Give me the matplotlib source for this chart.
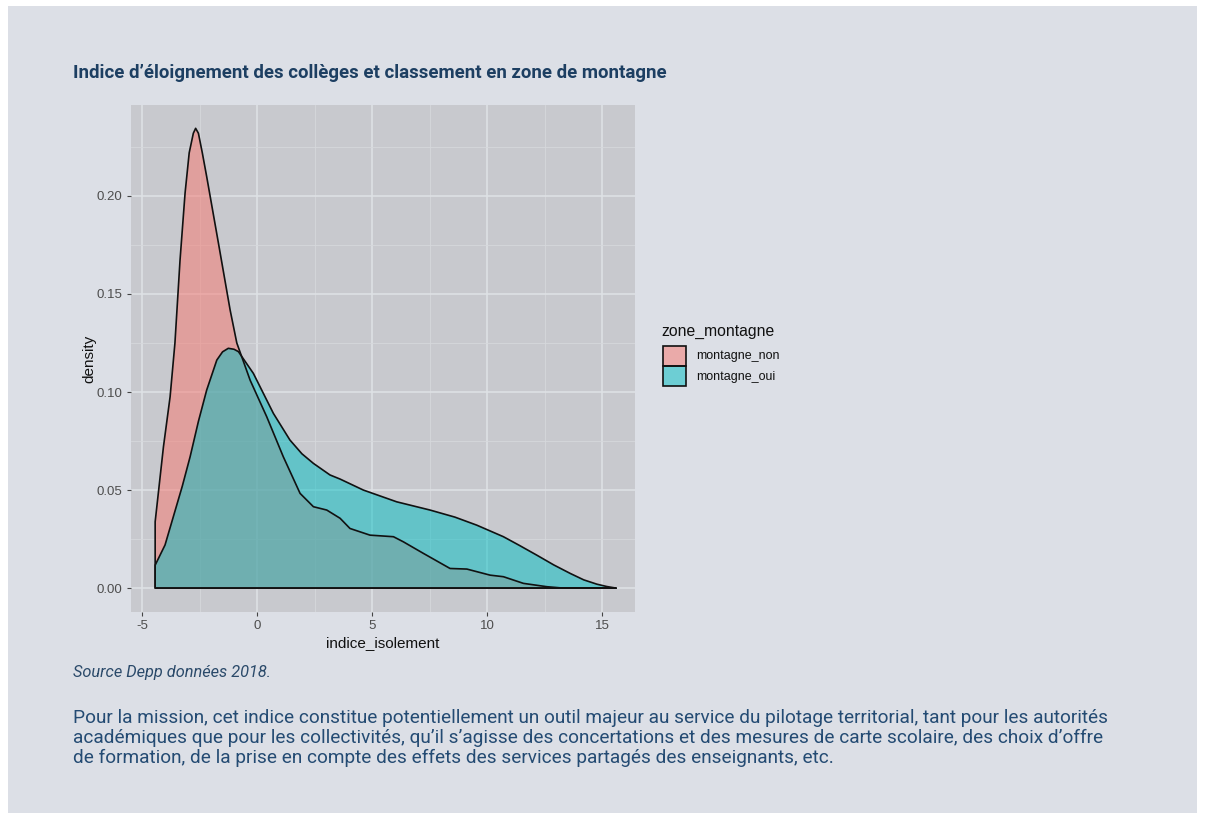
import numpy as np
import matplotlib
matplotlib.use("Agg")
import matplotlib.pyplot as plt
from matplotlib.patches import Rectangle

# density curves (indice_isolement -> density)
x_non = [-4.43, -4.07, -3.78, -3.57, -3.35, -3.13, -2.95, -2.77, -2.67, -2.55, -2.38,
         -2.19, -1.68, -1.17, -0.88, -0.30, 0.42, 1.14, 1.87, 2.45, 3.03, 3.61, 4.04,
         4.91, 5.93, 6.36, 7.23, 8.39, 9.12, 10.13, 10.71, 11.58, 12.6, 13.3, 15.6]
y_non = [0.0338, 0.0720, 0.0976, 0.125, 0.167, 0.2014, 0.222, 0.232, 0.2345, 0.232,
         0.222, 0.2099, 0.176, 0.1418, 0.125, 0.106, 0.0874, 0.067, 0.0483, 0.0415,
         0.0398, 0.0356, 0.0304, 0.027, 0.0262, 0.0236, 0.0177, 0.010, 0.0097, 0.0066,
         0.0058, 0.0024, 0.0007, 0.0, 0.0]

x_oui = [-4.43, -4.0, -3.64, -3.25, -2.91, -2.55, -2.19, -1.75, -1.5, -1.25, -1.0,
         -0.81, -0.16, 0.71, 1.43, 1.95, 2.45, 3.17, 3.61, 4.62, 6.07, 7.52, 8.6, 9.55,
         10.71, 11.4, 12.16, 12.9, 13.61, 14.2, 14.77, 15.2, 15.6]
y_oui = [0.0117, 0.022, 0.0364, 0.052, 0.067, 0.085, 0.101, 0.1163, 0.1205, 0.1223,
         0.1218, 0.1206, 0.1095, 0.0891, 0.0755, 0.0685, 0.0636, 0.0577, 0.0556, 0.050,
         0.044, 0.0398, 0.0362, 0.0321, 0.0262, 0.0218, 0.0168, 0.0118, 0.0075, 0.0042,
         0.002, 0.0008, 0.0]

groups = ["montagne_non", "montagne_oui"]
fills = ["#F8766D", "#00BFC4"]

xticks = [-5, 0, 5, 10, 15]
yticks = [0.0, 0.05, 0.10, 0.15, 0.20]

title = "Indice d\u2019éloignement des collèges et classement en zone de montagne"
source = "Source Depp données 2018."
paragraph = ["Pour la mission, cet indice constitue potentiellement un outil majeur au service du pilotage territorial, tant pour les autorités",
             "académiques que pour les collectivités, qu\u2019il s\u2019agisse des concertations et des mesures de carte scolaire, des choix d\u2019offre",
             "de formation, de la prise en compte des effets des services partagés des enseignants, etc."]

W, H = 1205, 821
fig = plt.figure(figsize=(W / 100, H / 100), dpi=100)
fig.patch.set_facecolor("white")
# page panel
fig.patches.append(Rectangle((8 / W, 1 - 813 / H), (1197 - 8) / W, (813 - 6) / H,
                             transform=fig.transFigure, facecolor="#dcdfe6",
                             edgecolor="none", zorder=-5))

ax = fig.add_axes([131 / W, 1 - 612 / H, (635 - 131) / W, (612 - 105) / H])
ax.set_facecolor("#c8c9ce")
for s in ax.spines.values():
    s.set_visible(False)

ax.set_xlim(-5.48, 16.43)
ax.set_ylim(-0.0122, 0.2464)
ax.set_xticks(xticks)
ax.set_yticks(yticks)
ax.set_xticks([-2.5, 2.5, 7.5, 12.5], minor=True)
ax.set_yticks([0.025, 0.075, 0.125, 0.175, 0.225], minor=True)
ax.set_xticklabels([str(v) for v in xticks])
ax.set_yticklabels(["%.2f" % v for v in yticks])
ax.grid(which="major", color="#dfe2e6", lw=1.1)
ax.grid(which="minor", color="#d6d8dc", lw=0.6)
ax.set_axisbelow(True)
ax.tick_params(which="major", length=3, color="#444444", labelcolor="#4d4d4d",
               labelsize=9.5, pad=3)
ax.tick_params(which="minor", length=0)
for lab in ax.get_xticklabels() + ax.get_yticklabels():
    lab.set_fontfamily("Liberation Sans")

for xs, ys, c in [(x_non, y_non, fills[0]), (x_oui, y_oui, fills[1])]:
    px = [xs[0]] + list(xs) + [xs[-1]]
    py = [0.0] + list(ys) + [0.0]
    ax.fill(px, py, facecolor=c, alpha=0.5, edgecolor="none", zorder=2)
    ax.fill(px, py, facecolor="none", edgecolor="#111111", lw=1.2, zorder=3,
            joinstyle="round")

ax.set_xlabel("indice_isolement", fontsize=11, family="Liberation Sans", color="#111111",
              labelpad=3)
ax.set_ylabel("density", fontsize=11, family="Liberation Sans", color="#111111",
              labelpad=0)

# legend
fig.text(661 / W, 1 - 331 / H, "zone_montagne", fontsize=11.3, family="Liberation Sans",
         color="#111111", va="center", ha="left")
for i, (g, c) in enumerate(zip(groups, fills)):
    top = 346 + i * 20.5
    fig.patches.append(Rectangle((663 / W, 1 - (top + 20) / H), 23 / W, 20 / H,
                                 transform=fig.transFigure, facecolor=c, alpha=0.5,
                                 edgecolor="none", zorder=2))
    fig.patches.append(Rectangle((663 / W, 1 - (top + 20) / H), 23 / W, 20 / H,
                                 transform=fig.transFigure, facecolor="none",
                                 edgecolor="#111111", lw=1.2, zorder=3))
    fig.text(696 / W, 1 - (top + 10) / H, g, fontsize=9, family="Liberation Sans",
             color="#111111", va="center", ha="left")

fig.text(73 / W, 1 - 73 / H, title, fontsize=13.4, fontweight="bold", family="Roboto",
         color="#1d3f62", va="center", ha="left")
fig.text(73 / W, 1 - 673 / H, source, fontsize=11.8, fontstyle="italic", family="Roboto",
         color="#2b4a6a", va="center", ha="left")
for i, line in enumerate(paragraph):
    fig.text(73 / W, 1 - (718 + 20 * i) / H, line, fontsize=13.7, family="Roboto",
             color="#244b73", va="center", ha="left")

fig.savefig("out.png", dpi=100, facecolor=fig.get_facecolor())
